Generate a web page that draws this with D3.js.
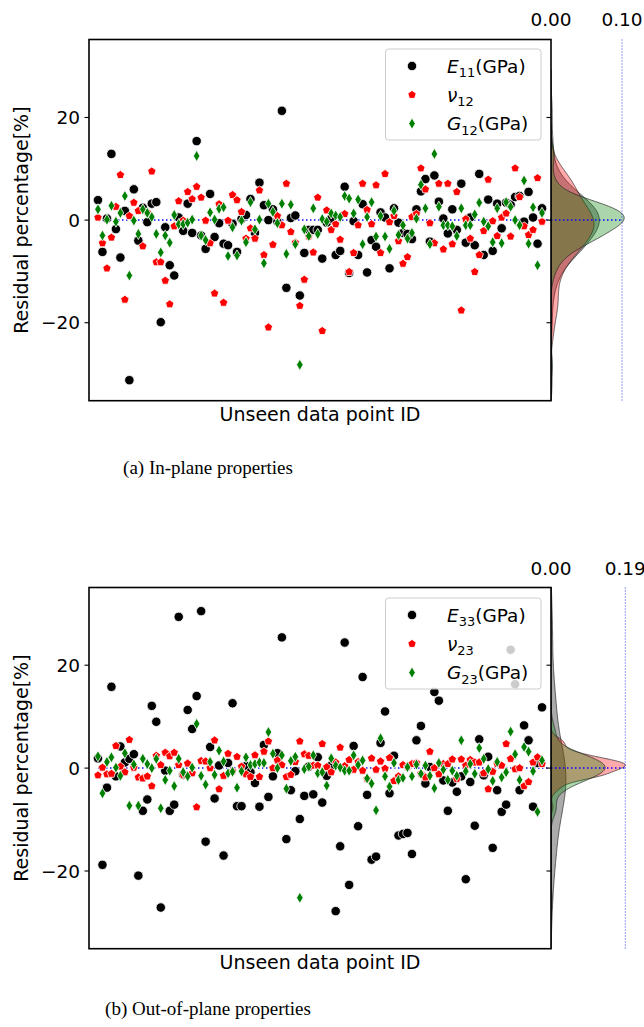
<!DOCTYPE html>
<html><head><meta charset="utf-8">
<script src="https://cdn.jsdelivr.net/npm/d3@7"></script>
<style>
body{margin:0;background:#fff}
svg{display:block}
text{font-family:"DejaVu Sans",sans-serif;fill:#000}
</style>
</head><body>
<svg id="fig" width="644" height="1027"></svg>
<script>
// ---------------- data ----------------
const ids = d3.range(100);

const E11 = [3.9,-6.2,0.3,12.9,-1.75,-7.3,1.8,-31.2,6.0,-4.0,
2.4,-0.4,3.2,3.5,-19.9,-1.4,-8.8,-10.8,0.5,-2.1,
3.2,-2.5,15.4,-3.0,-5.6,5.1,-3.3,-0.6,-4.6,-4.9,
-0.7,-6.2,0.2,1.0,4.1,-2.5,7.3,2.9,0.0,2.1,
-0.3,21.3,-13.2,0.4,0.9,-14.7,-6.4,-1.9,-1.9,-1.9,
-7.5,-0.5,0.3,-6.8,-6.0,6.5,-10.3,-0.2,-6.8,3.1,
-10.2,-3.9,-5.2,1.5,0.5,-9.4,2.3,-0.5,-2.5,-2.7,
-3.7,2.1,5.6,8.0,-4.2,8.7,3.6,0.3,-2.6,2.1,
-1.9,7.1,-4.4,0.5,-4.9,9.0,-6.8,4.0,-6.0,3.2,
-1.6,3.4,3.0,4.5,4.7,-0.3,5.5,0.5,-4.6,2.3];

const nu12 = [0.5,-4.5,-9.4,-3.4,2.6,8.8,-15.5,0.8,3.4,1.8,
-5.1,1.5,9.5,-8.2,-8.2,-11.8,-16.4,-1.2,3.7,-0.1,
5.5,4.1,6.5,4.4,-0.1,-4.5,-14.3,3.1,-16.1,-0.1,
4.9,3.9,1.6,-3.6,-1.6,-3.6,5.8,-6.8,-20.9,-4.8,
0.8,-1.0,7.1,-2.3,-4.4,-16.7,-11.6,-3.2,-6.3,4.4,
-21.6,1.9,-1.9,-0.8,-3.8,1.2,-10.1,-6.4,-1.0,7.1,
2.0,-0.8,6.8,-6.4,9.0,-0.4,0.8,-4.1,-8.5,-7.2,
0.6,1.2,10.1,6.0,-0.6,-4.5,7.1,-5.7,7.1,-4.7,
5.5,-17.6,0.2,-3.6,-10.1,-6.8,-2.1,7.9,-0.2,-3.1,
0.5,1.3,-3.2,10.1,4.5,-1.2,-2.9,-1.9,8.2,-0.3];

const G12 = [2.1,-3.0,0.1,2.8,-0.3,1.4,4.7,-10.8,-0.1,-2.7,
2.1,1.4,0.6,-2.7,-6.3,-3.0,-4.4,1.0,-0.8,-0.8,
-0.5,0.1,12.5,-3.0,-3.9,1.5,0.1,2.2,2.5,-7.0,
-1.4,-6.9,-0.1,-4.3,3.5,-1.8,0.1,-8.4,3.2,1.6,
-0.6,3.2,-6.6,3.0,-4.7,-28.2,-1.8,-3.1,2.3,-2.7,
0.2,-0.3,1.3,0.9,0.6,4.7,4.2,1.3,4.0,-4.7,
0.6,3.5,-3.2,0.8,-3.2,-5.6,1.8,-2.9,-1.0,-3.6,
-2.5,0.3,6.9,2.3,-4.7,12.9,2.6,-1.0,-1.0,-1.2,
-3.1,2.3,-1.0,-1.0,1.1,3.4,-0.3,-1.2,-4.3,2.3,
-4.5,3.5,2.6,0.0,-1.0,7.7,-4.6,2.5,-8.8,1.4];

const E33 = [1.9,-18.8,-3.8,15.8,-1.6,4.2,1.1,1.8,2.7,-20.9,
-8.3,-6.1,12.1,9.0,-27.1,-0.5,-8.3,-7.1,29.4,-1.3,
11.3,7.6,14.0,30.5,-14.3,4.1,-5.9,0.5,-17.0,1.0,
12.6,-7.4,-7.4,0.4,-0.8,-2.9,-7.5,4.5,-5.6,-1.6,
2.9,25.4,-13.8,-4.3,-0.6,-9.9,-5.4,0.3,-5.1,2.1,
-6.7,-1.5,0.5,-27.8,-15.2,24.4,-22.7,4.3,-11.3,17.7,
-5.2,-17.8,-17.2,4.9,11.0,-4.9,2.4,-13.1,-12.8,-12.6,
-16.7,5.4,8.2,-3.0,0.2,14.8,13.1,-2.4,-8.3,-2.8,
-4.6,-1.6,-21.6,-2.7,-11.2,5.6,-1.4,2.2,-15.5,-4.3,
-8.5,-7.1,23.0,16.3,-4.3,8.3,5.4,-7.5,1.0,11.8];

const nu23 = [-1.4,0.1,-1.2,-1.1,4.3,0.3,-0.8,5.5,0.1,-1.8,
-2.0,-1.6,-3.5,2.4,0.6,3.0,2.3,3.0,0.6,-1.3,
0.9,-1.0,-7.6,1.4,1.3,0.0,5.4,-4.1,-1.5,2.8,
-0.6,2.2,0.3,-1.2,-1.7,2.5,-1.7,3.2,5.2,0.0,
1.5,0.6,-1.7,-1.3,1.2,5.2,2.7,2.4,0.5,0.5,
4.7,0.2,-0.8,1.1,4.0,0.4,1.6,-0.3,1.2,-0.5,
-2.1,1.9,-0.3,1.3,-0.1,2.0,-2.5,-1.6,0.6,0.2,
0.8,1.0,-1.1,-1.8,3.2,0.0,-1.2,0.8,0.8,1.7,
-2.1,1.7,0.5,1.6,1.1,1.1,-1.0,-4.1,-0.7,0.8,
0.5,4.7,1.8,-0.2,0.0,-3.5,-2.7,1.1,2.1,0.8];

const G23 = [2.3,-4.9,1.2,2.1,0.1,-1.5,2.9,-7.3,0.7,-7.3,
1.8,0.8,0.0,1.8,-7.8,-2.3,-0.5,-3.5,1.8,-0.8,
-1.6,0.1,8.6,-1.5,-3.2,1.2,-1.3,3.4,1.3,-1.0,
-0.7,-3.8,-0.6,2.1,0.6,0.8,1.1,1.0,7.0,2.8,
0.0,2.5,-4.0,1.4,2.2,-25.2,-0.2,0.3,2.5,-1.0,
-0.8,-3.4,1.9,0.5,0.1,-0.5,-0.5,2.5,0.6,1.5,
-2.0,-3.0,-8.2,5.8,-1.6,-3.6,1.0,-2.3,-1.9,0.2,
-1.6,0.7,-1.1,0.5,-1.5,-3.9,1.0,-0.3,-2.3,-0.5,
-1.5,5.4,-0.6,0.8,-1.1,3.9,1.8,-0.2,-2.5,1.2,
-1.8,-0.8,7.1,2.7,-2.3,4.1,3.2,-0.6,-8.5,1.5];

const yTickValues = [-20, 0, 20];
const yTickLabels = ["\u221220", "0", "20"];
const kdeTicksA = [0, 0.10];
const kdeTickLabelsA = ["0.00", "0.10"];
const kdeTicksB = [0, 0.19];
const kdeTickLabelsB = ["0.00", "0.19"];
const legendA = [["E","11","(GPa)"],["\u03bd","12",""],["G","12","(GPa)"]];
const legendB = [["E","33","(GPa)"],["\u03bd","23",""],["G","23","(GPa)"]];
const captions = ["(a) In-plane properties", "(b) Out-of-plane properties"];
const xLabel = "Unseen data point ID";
const yLabel = "Residual percentage[%]";

// ---------------- layout ----------------
const colors = ["#000000", "#ff0000", "#008000"];
const L = 89, R = 551;
const panels = [
  {top: 39.5, bottom: 400.7, ydom: [-35.2, 35.2], series: [E11, nu12, G12], legend: legendA,
   kTicks: kdeTicksA, kLabels: kdeTickLabelsA, mRight: 622, kLabelY: 26, caption: captions[0], capY: 474, legTop: 49},
  {top: 587.5, bottom: 948.7, ydom: [-35.1, 35.1], series: [E33, nu23, G23], legend: legendB,
   kTicks: kdeTicksB, kLabels: kdeTickLabelsB, mRight: 625.3, kLabelY: 575, caption: captions[1], capY: 1015, legTop: 598}
];

const svg = d3.select("#fig");
const x = d3.scaleLinear().domain([-2, 101]).range([L, R]);
const FS = 18.5;

function pentagonPath(r) {
  const pts = d3.range(5).map(k => {
    const a = -Math.PI / 2 + k * 2 * Math.PI / 5;
    return [r * Math.cos(a), r * Math.sin(a)];
  });
  return "M" + pts.map(p => p.join(",")).join("L") + "Z";
}
function thinDiamondPath(hw, hh) {
  return `M0,${-hh}L${hw},0L0,${hh}L${-hw},0Z`;
}
const markerPaths = [
  d3.symbol(d3.symbolCircle, Math.PI * 4.7 * 4.7)(),
  pentagonPath(4.4),
  thinDiamondPath(3.3, 5.6)
];

function kde(values) {
  const n = values.length;
  const h = d3.deviation(values) * Math.pow(n, -0.2);
  const a = d3.min(values) - 3 * h, b = d3.max(values) + 3 * h;
  const grid = d3.range(0, 401).map(k => a + (b - a) * k / 400);
  return grid.map(g => [g, d3.mean(values, v => Math.exp(-0.5 * ((g - v) / h) ** 2)) / (h * Math.sqrt(2 * Math.PI))]);
}

panels.forEach((p, pi) => {
  const g = svg.append("g");
  const y = d3.scaleLinear().domain(p.ydom).range([p.bottom, p.top]);
  const xm = d3.scaleLinear().domain(p.kTicks).range([R, p.mRight]);
  const clipId = "clip" + pi, clipM = "clipm" + pi;
  svg.append("clipPath").attr("id", clipId).append("rect")
    .attr("x", L).attr("y", p.top).attr("width", R - L).attr("height", p.bottom - p.top);
  svg.append("clipPath").attr("id", clipM).append("rect")
    .attr("x", R).attr("y", p.top).attr("width", 644 - R).attr("height", p.bottom - p.top);

  // ---- marginal KDEs ----
  const mg = g.append("g").attr("clip-path", `url(#${clipM})`);
  p.series.forEach((s, si) => {
    const dens = kde(s);
    const area = d3.area().y(d => y(d[0])).x0(xm(0)).x1(d => xm(d[1]));
    mg.append("path").attr("d", area(dens))
      .attr("fill", colors[si]).attr("fill-opacity", 0.33)
      .attr("stroke", "#222").attr("stroke-opacity", 0.75).attr("stroke-width", 0.9);
  });
  g.append("line").attr("x1", xm(p.kTicks[1])).attr("x2", xm(p.kTicks[1]))
    .attr("y1", p.top).attr("y2", p.bottom)
    .attr("stroke", "#0000ff").attr("stroke-width", 0.8).attr("stroke-dasharray", "1,2");
  g.append("line").attr("x1", xm(0)).attr("x2", xm(p.kTicks[1]))
    .attr("y1", y(0)).attr("y2", y(0))
    .attr("stroke", "#0000ff").attr("stroke-width", 1.5).attr("stroke-dasharray", "1.5,2.5");
  g.selectAll(".kt").data(p.kTicks).enter().append("text")
    .attr("x", d => xm(d)).attr("y", p.kLabelY).attr("text-anchor", "middle")
    .attr("font-size", FS).text((d, i) => p.kLabels[i]);

  // ---- main scatter ----
  const sg = g.append("g").attr("clip-path", `url(#${clipId})`);
  sg.append("line").attr("x1", x(0)).attr("x2", R).attr("y1", y(0)).attr("y2", y(0))
    .attr("stroke", "#0000ff").attr("stroke-width", 1.5).attr("stroke-dasharray", "1.5,2.5");
  p.series.forEach((s, si) => {
    sg.selectAll(".m" + si).data(ids).enter().append("path")
      .attr("d", markerPaths[si])
      .attr("transform", i => `translate(${x(i)},${y(s[i])})`)
      .attr("fill", colors[si]).attr("stroke", "#fff").attr("stroke-width", 0.8);
  });

  g.append("rect").attr("x", L).attr("y", p.top).attr("width", R - L).attr("height", p.bottom - p.top)
    .attr("fill", "none").attr("stroke", "#000").attr("stroke-width", 1.6);

  yTickValues.forEach((v, i) => {
    g.append("line").attr("x1", L - 4.5).attr("x2", L).attr("y1", y(v)).attr("y2", y(v))
      .attr("stroke", "#000").attr("stroke-width", 1.1);
    g.append("line").attr("x1", R - 4.5).attr("x2", R).attr("y1", y(v)).attr("y2", y(v))
      .attr("stroke", "#000").attr("stroke-width", 1.1);
    g.append("text").attr("x", L - 9).attr("y", y(v)).attr("dy", "0.36em")
      .attr("text-anchor", "end").attr("font-size", FS).text(yTickLabels[i]);
  });

  g.append("text").attr("x", (L + R) / 2).attr("y", p.bottom + 20.5).attr("text-anchor", "middle")
    .attr("font-size", 19).text(xLabel);
  const cy = (p.top + p.bottom) / 2;
  g.append("text").attr("transform", `translate(28,${cy}) rotate(-90)`).attr("text-anchor", "middle")
    .attr("font-size", 19).text(yLabel);

  const lg = g.append("g");
  lg.append("rect").attr("x", 385.5).attr("y", p.legTop).attr("width", 155.5).attr("height", 91)
    .attr("rx", 3).attr("fill", "#fff").attr("fill-opacity", 0.8)
    .attr("stroke", "#cccccc").attr("stroke-width", 1);
  const rows = [17, 45.8, 74.6];
  p.legend.forEach((item, si) => {
    const ry = p.legTop + rows[si];
    lg.append("path").attr("d", markerPaths[si]).attr("transform", `translate(412,${ry})`)
      .attr("fill", colors[si]).attr("stroke", "#fff").attr("stroke-width", 0.8);
    const t = lg.append("text").attr("x", 447).attr("y", ry + 6.8).attr("font-size", FS);
    t.append("tspan").attr("font-style", "italic").text(item[0]);
    t.append("tspan").attr("font-size", FS * 0.7).attr("dy", 4.5).text(item[1]);
    if (item[2]) t.append("tspan").attr("dy", -4.5).text(item[2]);
  });

  svg.append("text").attr("x", 208).attr("y", p.capY).attr("text-anchor", "middle")
    .style("font-family", "'Liberation Serif', serif").attr("font-size", 19).text(p.caption);
});
</script>
</body></html>
